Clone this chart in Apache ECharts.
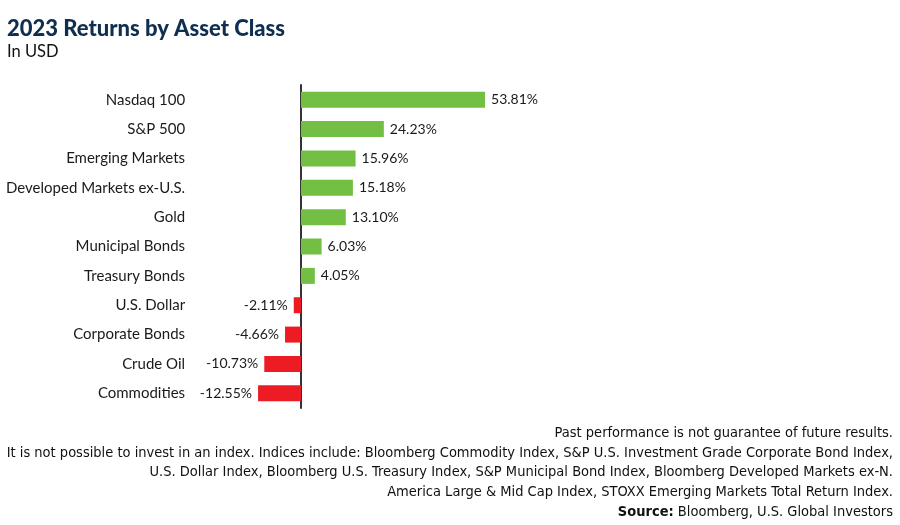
<!DOCTYPE html>
<html><head><meta charset="utf-8">
<script src="https://cdn.jsdelivr.net/npm/echarts@6/dist/echarts.min.js"></script>
<style>html,body{margin:0;padding:0;background:#fff}#c{width:900px;height:525px}</style>
</head><body><div id="c"></div>
<script>
const categories = ['Nasdaq 100','S&P 500','Emerging Markets','Developed Markets ex-U.S.','Gold','Municipal Bonds','Treasury Bonds','U.S. Dollar','Corporate Bonds','Crude Oil','Commodities'];
const values = [53.81,24.23,15.96,15.18,13.10,6.03,4.05,-2.11,-4.66,-10.73,-12.55];
const footerLines = [
  'Past performance is not guarantee of future results.',
  'It is not possible to invest in an index. Indices include: Bloomberg Commodity Index, S&P U.S. Investment Grade Corporate Bond Index,',
  'U.S. Dollar Index, Bloomberg U.S. Treasury Index, S&P Municipal Bond Index, Bloomberg Developed Markets ex-N.',
  'America Large & Mid Cap Index, STOXX Emerging Markets Total Return Index.'
];
const GREEN = '#72BF44', RED = '#ED1C24';
const chart = echarts.init(document.getElementById('c'));
const footFont = '"DejaVu Sans Condensed",sans-serif';
const graphics = footerLines.map((t, i) => ({
  type: 'text', right: 7, top: 426 + i * 19.6,
  style: { text: t, font: '14.5px ' + footFont, fill: '#111', textAlign: 'right' }
}));
graphics.push({
  type: 'text', right: 7, top: 504.5,
  style: {
    text: '{b|Source:} Bloomberg, U.S. Global Investors',
    rich: { b: { fontWeight: 'bold', fontSize: 14.5, fontFamily: footFont, fill: '#111' } },
    font: '14.5px ' + footFont, fill: '#111'
  }
});
chart.setOption({
  animation: false,
  title: [
    { text: '2023 Returns by Asset Class', left: 2, top: 13,
      textStyle: { fontFamily: 'Lato, sans-serif', fontWeight: 900, fontSize: 22, color: '#0E2F50' } },
    { text: 'In USD', left: 2, top: 38,
      textStyle: { fontFamily: 'Lato, sans-serif', fontWeight: 'normal', fontSize: 16.5, color: '#111' } }
  ],
  graphic: graphics,
  grid: { left: 253.1, width: 239.4, top: 85, height: 323, containLabel: false, outerBoundsMode: 'none' },
  xAxis: { type: 'value', min: -14, max: 56, show: false, splitLine: { show: false } },
  yAxis: {
    type: 'category', data: categories, inverse: true,
    axisLine: { show: true, onZero: true, lineStyle: { color: '#333', width: 2 } },
    axisTick: { show: false },
    axisLabel: { margin: 68, fontFamily: 'Lato, sans-serif', fontSize: 15, color: '#1a1a1a' }
  },
  series: [{
    type: 'bar', barWidth: 16,
    data: values.map(v => ({
      value: v,
      itemStyle: { color: v >= 0 ? GREEN : RED },
      label: { position: v >= 0 ? 'right' : 'left' }
    })),
    label: { show: true, distance: 6, fontFamily: 'Lato, sans-serif', fontSize: 14, color: '#1a1a1a',
      formatter: p => p.value.toFixed(2) + '%' }
  }]
});
</script></body></html>
